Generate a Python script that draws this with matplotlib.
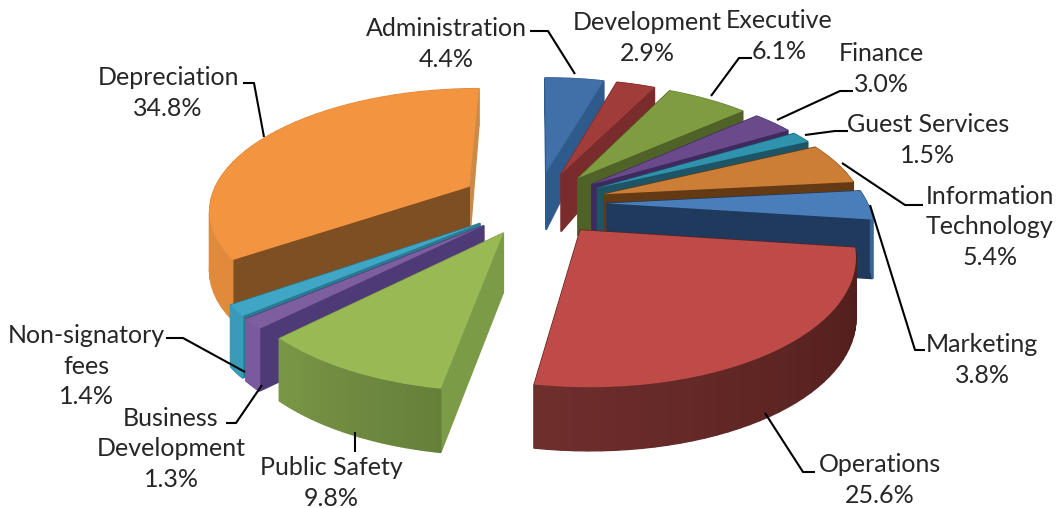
"""Exploded 3D style pie of expense shares."""

import numpy as np
import matplotlib
matplotlib.use('Agg')
import matplotlib.pyplot as plt
from matplotlib.colors import to_rgb
from matplotlib.patches import Polygon
from matplotlib.transforms import Transform

# Data
categories = ['Administration', 'Development', 'Executive', 'Finance', 'Guest Services',
              'Information\nTechnology', 'Marketing', 'Operations', 'Public Safety',
              'Business\nDevelopment', 'Non-signatory\nfees', 'Depreciation']
shares = [4.4, 2.9, 6.1, 3.0, 1.5, 5.4, 3.8, 25.6, 9.8, 1.3, 1.4, 34.8]

# Colours: top face, radial cut faces (leading, trailing), outer wall start and end
top_colors = ['#4170A8', '#A03C3A', '#7F9C40', '#6B4A8C', '#2F93AE', '#CC7D36',
              '#4A7EBB', '#BE4B48', '#98B954', '#7D5FA0', '#3FA6C6', '#F29440']
cut_colors = ['#2F5A8C', '#7A2C2C', '#4F6228', '#3F2A60', '#1D5566', '#633A14',
              '#1F3A5C', '#5A211F', '#7C9B46', '#4F3A78', '#2A7A92', '#7F4F24']
cut_colors_end = ['#2F5A8C', '#7A2C2C', '#4F6228', '#3F2A60', '#1D5566', '#633A14',
                  '#1F3A5C', '#5A211F', '#7C9B46', '#4F3A78', '#2A7A92', '#CC8A48']
wall_start = ['#3A6498', '#8A3030', '#6E8A3E', '#5A3E78', '#2A7F98', '#B06A2C',
              '#3A6498', '#4E1C1A', '#66803A', '#7A5A9E', '#3A9AB8', '#E08A3C']
wall_end = ['#3A6498', '#8A3030', '#6E8A3E', '#5A3E78', '#2A7F98', '#B06A2C',
            '#3A6498', '#6E2E2C', '#7A9646', '#7A5A9E', '#3A9AB8', '#E08A3C']

explode = [0.27, 0.27, 0.27, 0.27, 0.27, 0.27, 0.27, 0.27, 0.27, 0.27, 0.27, 0.30]

# Label centres and leader lines, in pixels
label_pos = [(446, 44), (647, 38), (779, 36), (881, 69), (928, 140), (990, 227), (982, 360),
             (880, 480), (331, 483), (171, 449), (86, 366), (168, 93)]
leaders = [
    [(530, 31), (548, 31), (575, 74)],
    None,
    [(752, 58), (739, 58), (711, 96)],
    [(777, 120), (840, 91), (853, 91)],
    [(805, 135), (835, 131), (848, 131)],
    [(842, 163), (905, 205), (923, 205)],
    [(870, 205), (915, 350), (925, 350)],
    [(765, 413), (803, 472), (815, 472)],
    [(355, 432), (355, 452)],
    [(262, 385), (236, 423), (226, 423)],
    [(245, 372), (183, 338), (166, 338)],
    [(264, 137), (254, 83), (243, 83)],
]

# Projection of the pie plane into pixels
CX, CY = 537, 203
RX, RY = 260, 120
K = 0.17


def project(x, y):
    den = 1 + K * y
    return CX + RX * x / den, CY - RY * y / den


def depth(y):
    """Wall height in pixels, shrinks toward the back."""
    return np.interp(y, [-1.3, 0.35, 1.3], [64, 57, 33])


class PlaneToPixel(Transform):
    input_dims = 2
    output_dims = 2

    def transform_non_affine(self, xy):
        xy = np.asarray(xy, dtype=float)
        return np.column_stack(project(xy[:, 0], xy[:, 1]))


def add_wall(ax, pts, color, z):
    """Extrude a plane segment downward as one quad."""
    (x0, y0), (x1, y1) = pts
    sx0, sy0 = project(x0, y0)
    sx1, sy1 = project(x1, y1)
    quad = [(sx0, sy0), (sx1, sy1), (sx1, sy1 + depth(y1)), (sx0, sy0 + depth(y0))]
    ax.add_patch(Polygon(quad, closed=True, facecolor=color, edgecolor=color,
                         linewidth=1.0, zorder=z))


fig = plt.figure(figsize=(10.58, 5.08), dpi=100)
ax = fig.add_axes([0, 0, 1, 1])
wedges, _ = ax.pie(shares, explode=explode, startangle=90, counterclock=False,
                   colors=top_colors, wedgeprops={'linewidth': 0})
ax.set_aspect('auto')
ax.set_xlim(0, 1058)
ax.set_ylim(508, 0)

plane = PlaneToPixel() + ax.transData

# Paint back to front
mid_y = [w.center[1] + 0.6 * np.sin(np.radians((w.theta1 + w.theta2) / 2)) for w in wedges]
order = np.argsort(mid_y)[::-1]

for rank, i in enumerate(order):
    w = wedges[i]
    base_z = 10 + rank * 10
    cx, cy = w.center
    angles = np.radians(np.linspace(w.theta2, w.theta1, 40))
    ax_pts = np.column_stack([cx + w.r * np.cos(angles), cy + w.r * np.sin(angles)])

    # walls, farthest segment first
    segs = [(np.array([(cx, cy), ax_pts[0]]), cut_colors[i]),
            (np.array([(cx, cy), ax_pts[-1]]), cut_colors_end[i])]
    c0, c1 = np.array(to_rgb(wall_start[i])), np.array(to_rgb(wall_end[i]))
    for j in range(len(ax_pts) - 1):
        t = j / (len(ax_pts) - 2)
        segs.append((ax_pts[j:j + 2], tuple(c0 + (c1 - c0) * t)))
    segs.sort(key=lambda s: -s[0][:, 1].mean())
    for n, (pts, color) in enumerate(segs):
        add_wall(ax, pts, color, base_z + n * 0.1)

    w.set_transform(plane)
    w.set_zorder(base_z + 9)

# Labels
for name, share, pos in zip(categories, shares, label_pos):
    ax.text(pos[0], pos[1], f'{name}\n{share:.1f}%', ha='center', va='center',
            fontsize=18, family='Lato', color='#262626', linespacing=1.42, zorder=300)

for line in leaders:
    if line is not None:
        xs, ys = zip(*line)
        ax.plot(xs, ys, color='black', linewidth=1.5, zorder=290, solid_capstyle='butt')

fig.savefig('out.png', dpi=100)
